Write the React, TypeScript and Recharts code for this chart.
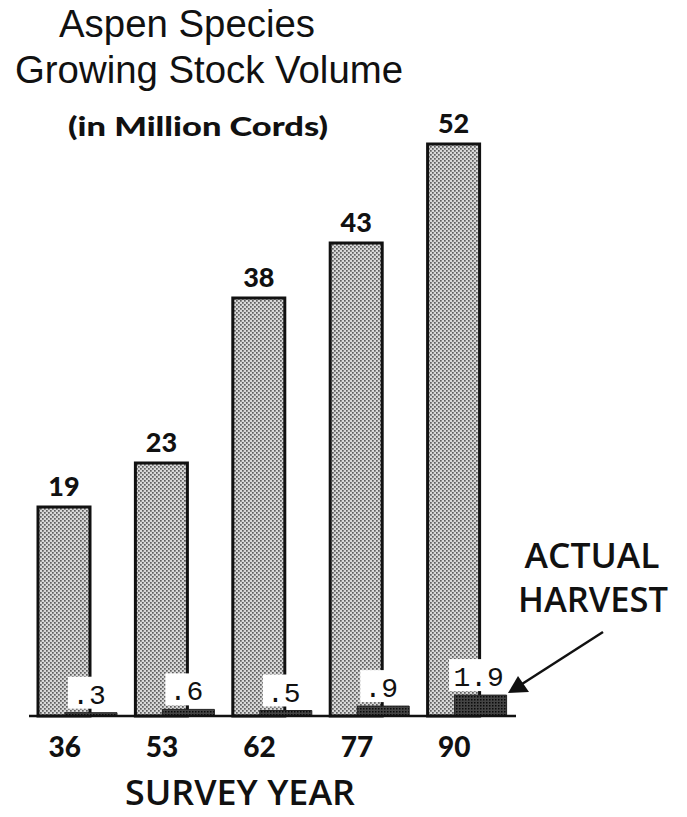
import { BarChart, Bar, XAxis, YAxis, LabelList } from 'recharts';

const surveyYears = ['36', '53', '62', '77', '90'];
const stockVolume = [19, 23, 38, 43, 52];
const actualHarvest = [0.3, 0.6, 0.5, 0.9, 1.9];

const data = surveyYears.map((year, i) => ({
	year,
	volume: stockVolume[i],
	harvest: actualHarvest[i],
}));

const boldFont = 'Lato, "Open Sans", sans-serif';

const YearTick = (props: any) => {
	const { x, y, payload } = props;
	return (
		<text
			x={x - 13}
			y={y + 33}
			textAnchor="middle"
			fontFamily={boldFont}
			fontWeight={900}
			fontSize={28}
			fill="#111"
		>
			{payload.value}
		</text>
	);
};

const VolumeLabel = (props: any) => {
	const { x, y, width, value } = props;
	return (
		<text
			x={x + width / 2}
			y={y - 11}
			textAnchor="middle"
			fontFamily={boldFont}
			fontWeight={900}
			fontSize={27}
			fill="#111"
		>
			{value}
		</text>
	);
};

const HarvestLabel = (props: any) => {
	const { x, y, width, value } = props;
	const txt = String(value).replace(/^0/, '');
	const cx = x + width / 2 - 2;
	const w = txt.length * 17 + 8;
	return (
		<g>
			<rect x={cx - w / 2} y={y - 36} width={w} height={32} fill="#fff" />
			<text
				x={cx}
				y={y - 9}
				textAnchor="middle"
				fontFamily='"Liberation Mono", "DejaVu Sans Mono", monospace'
				fontSize={28}
				fill="#111"
			>
				{txt}
			</text>
		</g>
	);
};

export default function App() {
	return (
		<div style={{ position: 'absolute', left: 0, top: 0, width: 687, height: 817, background: '#fff' }}>
			<BarChart
				width={687}
				height={817}
				data={data}
				margin={{ top: 56, right: 171, bottom: 0, left: 29 }}
				barGap={-25}
			>
				<defs>
					<pattern id="lightDots" width="4" height="4" patternUnits="userSpaceOnUse">
						<rect width="4" height="4" fill="#d8d8d8" />
						<rect x="0" y="0" width="1.7" height="1.7" fill="#5e5e5e" />
						<rect x="2" y="2" width="1.7" height="1.7" fill="#5e5e5e" />
					</pattern>
					<pattern id="darkDots" width="3" height="3" patternUnits="userSpaceOnUse">
						<rect width="3" height="3" fill="#444" />
						<rect x="0" y="0" width="1.5" height="1.5" fill="#0a0a0a" />
					</pattern>
				</defs>
				<XAxis
					dataKey="year"
					height={101}
					tickLine={false}
					axisLine={{ stroke: '#111', strokeWidth: 2.5 }}
					tick={<YearTick />}
					interval={0}
				/>
				<YAxis hide domain={[0, 60]} />
				<Bar
					dataKey="volume"
					barSize={52}
					fill="url(#lightDots)"
					stroke="#111"
					strokeWidth={3}
					isAnimationActive={false}
				>
					<LabelList dataKey="volume" content={<VolumeLabel />} />
				</Bar>
				<Bar
					dataKey="harvest"
					barSize={52}
					fill="url(#darkDots)"
					stroke="#222"
					strokeWidth={1}
					isAnimationActive={false}
				>
					<LabelList dataKey="harvest" content={<HarvestLabel />} />
				</Bar>
			</BarChart>
			<svg
				width={687}
				height={817}
				style={{ position: 'absolute', left: 0, top: 0, pointerEvents: 'none' }}
			>
				<g fill="#111" fontFamily='"Liberation Sans", Arial, sans-serif' fontSize={38}>
					<text x={187} y={37} textAnchor="middle" textLength={256} lengthAdjust="spacingAndGlyphs">
						Aspen Species
					</text>
					<text x={209} y={83} textAnchor="middle" textLength={388} lengthAdjust="spacingAndGlyphs">
						Growing Stock Volume
					</text>
				</g>
				<text
					x={198}
					y={136}
					textAnchor="middle"
					fontFamily={boldFont}
					fontWeight={900}
					fontSize={27}
					fill="#111"
					textLength={260}
					lengthAdjust="spacingAndGlyphs"
				>
					(in Million Cords)
				</text>
				<g fill="#111" fontFamily='"Open Sans", Lato, sans-serif' fontWeight={600} fontSize={35}>
					<text x={592} y={568} textAnchor="middle" textLength={135} lengthAdjust="spacingAndGlyphs">
						ACTUAL
					</text>
					<text x={593} y={612} textAnchor="middle" textLength={150} lengthAdjust="spacingAndGlyphs">
						HARVEST
					</text>
					<text x={240} y={805} textAnchor="middle" textLength={230} lengthAdjust="spacingAndGlyphs">
						SURVEY YEAR
					</text>
				</g>
				<line x1={603} y1={632} x2={522} y2={684} stroke="#111" strokeWidth={2.5} />
				<polygon points="508,693 518,676 529,692" fill="#111" />
			</svg>
		</div>
	);
}
